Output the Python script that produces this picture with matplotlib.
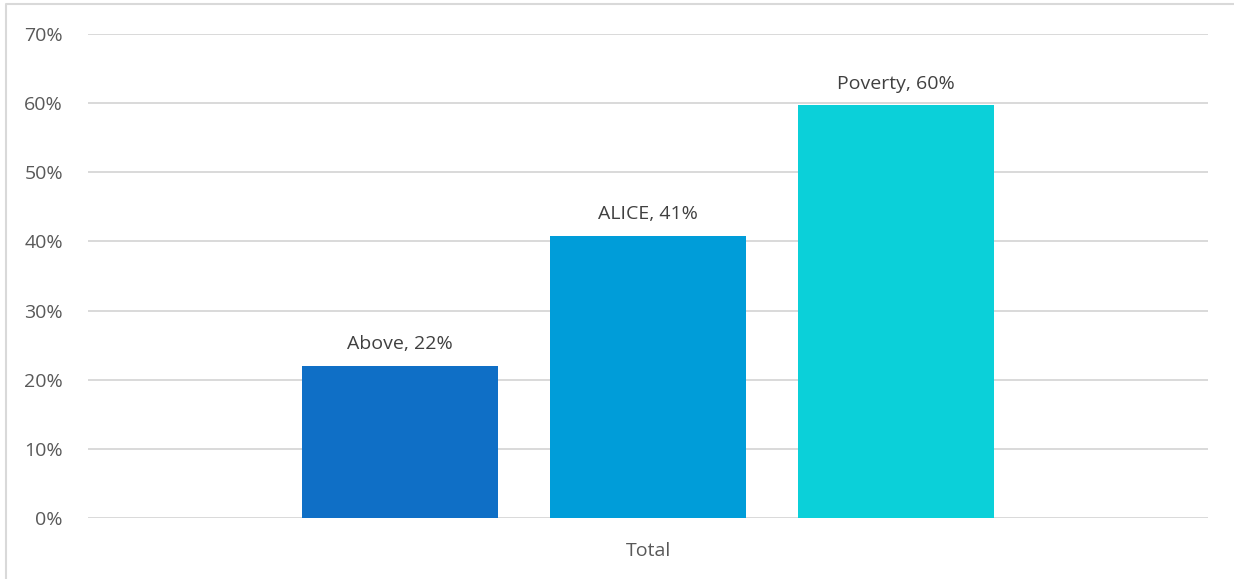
import matplotlib
matplotlib.use("Agg")
import matplotlib.pyplot as plt
from matplotlib.lines import Line2D
from matplotlib.ticker import FuncFormatter

# --- Data ---------------------------------------------------------------
series = ["Above", "ALICE", "Poverty"]
values = [0.22, 0.408, 0.597]
labels = ["Above, 22%", "ALICE, 41%", "Poverty, 60%"]
category = "Total"
colors = ["#0F6FC6", "#009DD9", "#0BD0D9"]

plt.rcParams["font.family"] = ["Open Sans", "DejaVu Sans"]

fig = plt.figure(figsize=(12.34, 5.79), dpi=100)
ax = fig.add_axes([88 / 1234, 1 - 518 / 579, 1120 / 1234, 484 / 579])

# bars side by side in one category group
positions = [-1, 0, 1]
width = 196 / 248
bars = ax.bar(positions, values, width=width, color=colors, zorder=2)

for b, lab in zip(bars, labels):
    ax.annotate(lab, (b.get_x() + b.get_width() / 2, b.get_height()),
                xytext=(0, 9), textcoords="offset points",
                ha="center", va="bottom", fontsize=14, color="#404040")

ax.set_xlim(-560 / 248, 560 / 248)
ax.set_ylim(0, 0.7)
ax.set_yticks([i / 10 for i in range(8)])
ax.yaxis.set_major_formatter(FuncFormatter(lambda v, _: f"{v:.0%}"))
ax.set_xticks([0])
ax.set_xticklabels([category])

ax.grid(axis="y", color="#D9D9D9", lw=1.4, zorder=0)
ax.tick_params(axis="both", length=0, labelsize=14, colors="#595959")
ax.tick_params(axis="y", pad=18)
ax.tick_params(axis="x", pad=17)
for s in ax.spines.values():
    s.set_visible(False)

# light frame around the chart area (top and left visible)
fx = 6 / 1234
fy = 1 - 4 / 579
fig.add_artist(Line2D([fx, fx, 1], [0, fy, fy], color="#D9D9D9", lw=1.5,
                      transform=fig.transFigure))

fig.savefig("out.png", dpi=100)
